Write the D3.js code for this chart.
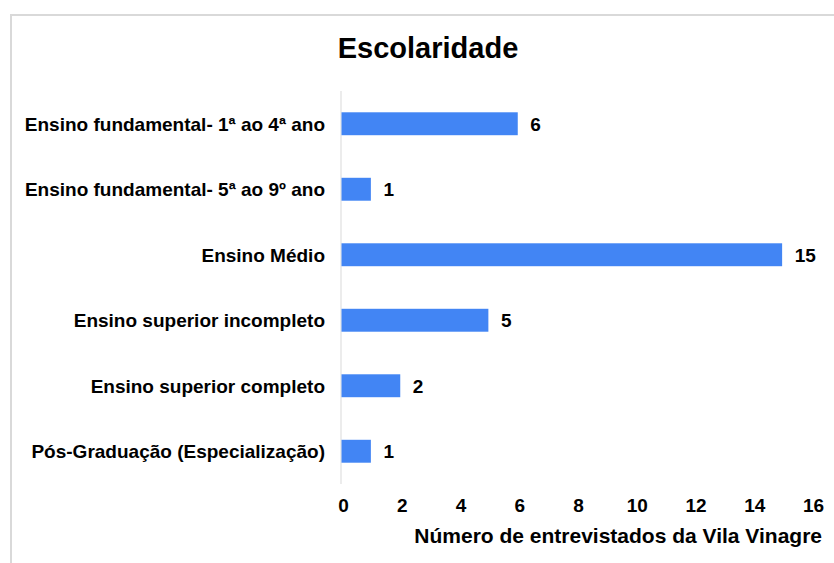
<!DOCTYPE html>
<html><head><meta charset="utf-8">
<script src="https://cdn.jsdelivr.net/npm/d3@7"></script>
<style>body{margin:0;background:#fff}svg{display:block}text{font-family:"Liberation Sans",Arial,sans-serif;font-weight:bold;fill:#000}</style>
</head><body><svg id="c" width="834" height="563"></svg>
<script>
const categories = ["Ensino fundamental- 1ª ao 4ª ano","Ensino fundamental- 5ª ao 9º ano","Ensino Médio","Ensino superior incompleto","Ensino superior completo","Pós-Graduação (Especialização)"];
const values = [6,1,15,5,2,1];
const xTicks = [0,2,4,6,8,10,12,14,16];
const title = "Escolaridade";
const xTitle = "Número de entrevistados da Vila Vinagre";

const svg = d3.select("#c");
// frame
svg.append("path").attr("d","M11,563 V15 H834").attr("fill","none").attr("stroke","#d9d9d9").attr("stroke-width",2);

const x = d3.scaleLinear().domain([0,16]).range([341,811]);
const y = d3.scaleBand().domain(categories).range([91,484]).paddingInner(0.65).paddingOuter(0.325);

svg.append("text").attr("x",428).attr("y",58).attr("text-anchor","middle").style("font-size","29px").text(title);

svg.append("line").attr("x1",x(0)).attr("x2",x(0)).attr("y1",91).attr("y2",484).attr("stroke","#d9d9d9").attr("stroke-width",1);

svg.selectAll("rect.bar").data(values).join("rect").attr("class","bar")
  .attr("x",x(0)+0.5).attr("y",(d,i)=>y(categories[i])).attr("height",y.bandwidth())
  .attr("width",d=>x(d)-x(0)).attr("fill","#4285f4");

svg.selectAll("text.val").data(values).join("text").attr("class","val")
  .attr("x",d=>x(d)+13).attr("y",(d,i)=>y(categories[i])+y.bandwidth()/2).attr("dy","0.38em")
  .style("font-size","19px").text(d=>d);

svg.selectAll("text.cat").data(categories).join("text").attr("class","cat")
  .attr("x",325).attr("y",d=>y(d)+y.bandwidth()/2).attr("dy","0.38em").attr("text-anchor","end")
  .style("font-size","19px").text(d=>d);

const ax = d3.axisBottom(x).tickValues(xTicks).tickSize(0).tickPadding(0);
const g = svg.append("g").attr("transform","translate(2,498)").call(ax);
g.select(".domain").remove();
g.selectAll("text").style("font-size","19px").style("font-family","'Liberation Sans',Arial,sans-serif").attr("dy","0.71em").attr("y",0).attr("fill","#000");

svg.append("text").attr("x",822).attr("y",543).attr("text-anchor","end").style("font-size","21px").text(xTitle);
</script></body></html>
